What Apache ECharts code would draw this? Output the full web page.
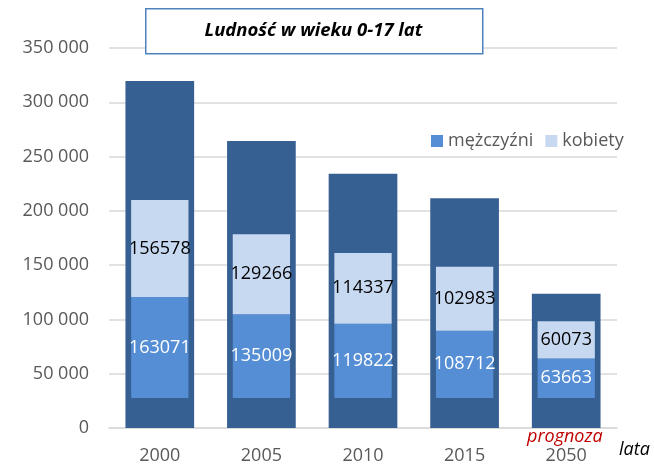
<!DOCTYPE html>
<html>
<head>
<meta charset="utf-8">
<script src="https://cdn.jsdelivr.net/npm/echarts@6/dist/echarts.min.js"></script>
<style>
html,body{margin:0;padding:0;background:#fff;}
#chart{width:654px;height:465px;}
</style>
</head>
<body>
<div id="chart"></div>
<script>
const categories = ['2000', '2005', '2010', '2015', '2050'];
const totals = [319649, 264275, 234159, 211695, 123736];
const men = [163071, 135009, 119822, 108712, 63663];
const women = [156578, 129266, 114337, 102983, 60073];
const yTicks = [0, 50000, 100000, 150000, 200000, 250000, 300000, 350000];

const FONT = 'Open Sans';
const fmt = v => String(v).replace(/\B(?=(\d{3})+(?!\d))/g, ' ');

const chart = echarts.init(document.getElementById('chart'), null, {renderer: 'canvas'});
chart.setOption({
  animation: false,
  textStyle: {fontFamily: FONT},
  grid: {left: 109, right: 37, top: 48, bottom: 36},
  legend: {
    data: ['mężczyźni', 'kobiety'],
    left: 426, top: 127,
    icon: 'rect', itemWidth: 12, itemHeight: 12, itemGap: 12,
    textStyle: {fontFamily: FONT, fontSize: 18, color: '#595959'}
  },
  xAxis: [
    {
      type: 'category', data: categories,
      axisLine: {lineStyle: {color: '#D9D9D9', width: 1.5}},
      axisTick: {show: false},
      axisLabel: {fontFamily: FONT, fontSize: 18, color: '#595959', margin: 19}
    },
    {type: 'category', data: categories, show: false}
  ],
  yAxis: [
    {
      type: 'value', min: yTicks[0], max: yTicks[yTicks.length - 1], interval: yTicks[1] - yTicks[0],
      axisLine: {show: false}, axisTick: {show: false},
      splitLine: {lineStyle: {color: '#D9D9D9', width: 1.5}},
      axisLabel: {fontFamily: FONT, fontSize: 18, color: '#595959', margin: 20, formatter: fmt}
    },
    {type: 'value', min: -48300, max: 564700, show: false, splitLine: {show: false}}
  ],
  series: [
    {
      name: 'razem', type: 'bar', data: totals, xAxisIndex: 0, yAxisIndex: 0,
      barWidth: '67.6%', itemStyle: {color: '#376092'}, z: 1
    },
    {
      name: 'mężczyźni', type: 'bar', data: men, xAxisIndex: 1, yAxisIndex: 1, stack: 'p',
      barWidth: '56.4%', itemStyle: {color: '#558ED5'}, z: 3,
      label: {show: true, position: 'inside', color: '#ffffff', fontFamily: FONT, fontSize: 18}
    },
    {
      name: 'kobiety', type: 'bar', data: women, xAxisIndex: 1, yAxisIndex: 1, stack: 'p',
      barWidth: '56.4%', itemStyle: {color: '#C6D9F1'}, z: 3,
      label: {show: true, position: 'inside', color: '#000000', fontFamily: FONT, fontSize: 18}
    }
  ],
  graphic: [
    {
      type: 'rect', left: 145, top: 8, z: 10,
      shape: {width: 337, height: 45},
      style: {fill: '#ffffff', stroke: '#4F81BD', lineWidth: 1.5}
    },
    {
      type: 'text', x: 313.5, y: 31, z: 11,
      style: {text: 'Ludność w wieku 0-17 lat', fill: '#000000', align: 'center', verticalAlign: 'middle',
              font: 'italic bold 18.5px "Open Sans"'}
    },
    {
      type: 'text', left: 527, top: 428, z: 11,
      style: {text: 'prognoza', fill: '#C00000', font: 'italic 18px "Open Sans"'}
    },
    {
      type: 'text', left: 619, top: 441, z: 11,
      style: {text: 'lata', fill: '#000000', font: 'italic 18px "Open Sans"'}
    }
  ]
});
</script>
</body>
</html>
